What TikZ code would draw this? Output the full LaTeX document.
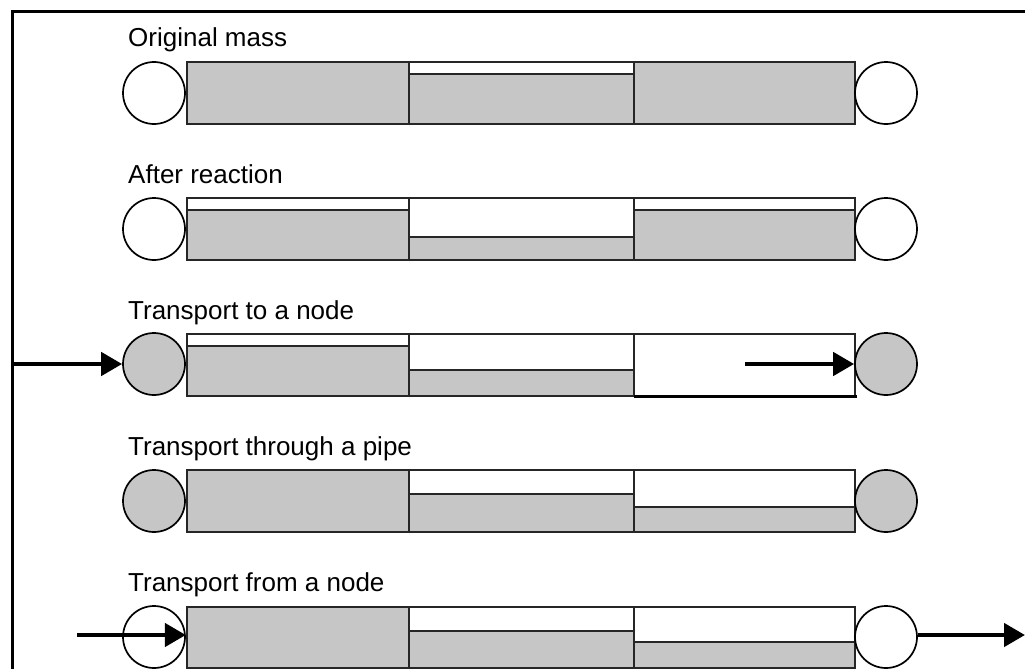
\documentclass[tikz,border=0pt]{standalone}
\usepackage{fontspec}
\setmainfont{Liberation Sans}
\usetikzlibrary{arrows.meta}
\definecolor{fillgray}{RGB}{198,198,198}
\tikzset{
  box/.style={draw=black!85, line width=1.7pt},
  ring/.style={circle, draw=black, line width=1.7pt, minimum size=62pt, inner sep=0pt},
  lbl/.style={anchor=base west, inner sep=0pt, font=\fontsize{26}{30}\selectfont},
  flow/.style={line width=4.5pt, -{Triangle[length=21pt,width=23pt]}},
}
% #1 x1, #2 x2, #3 top, #4 level, #5 bottom
\newcommand\pipeseg[5]{%
  \draw[box, fill=white] (#1,#3) rectangle (#2,#5);
  \draw[box, fill=fillgray] (#1,#4) rectangle (#2,#5);
}
\begin{document}
\begin{tikzpicture}[x=1pt,y=-1pt]
\useasboundingbox (0,0) rectangle (1025,669);
\draw[line width=3pt] (12,700) -- (12,12) -- (1060,12);

% Row 1
\node[lbl] (t1) at (128,47) {Original mass};
\pipeseg{187}{409}{62}{62}{124}
\pipeseg{409}{634}{62}{74}{124}
\pipeseg{634}{855}{62}{62}{124}
\node[ring, fill=white] (l1) at (154,93) {};
\node[ring, fill=white] (r1) at (886,93) {};

% Row 2
\node[lbl] (t2) at (128,183) {After reaction};
\pipeseg{187}{409}{198}{210}{260}
\pipeseg{409}{634}{198}{237}{260}
\pipeseg{634}{855}{198}{210}{260}
\node[ring, fill=white] (l2) at (154,229) {};
\node[ring, fill=white] (r2) at (886,229) {};

% Row 3
\node[lbl] (t3) at (128,319) {Transport to a node};
\pipeseg{187}{409}{334}{346}{396}
\pipeseg{409}{634}{334}{370}{396}
\draw[box, fill=white] (634,334) rectangle (855,396);
\draw[line width=3pt] (634,396) -- (857,396);
\node[ring, fill=fillgray] (l3) at (154,364) {};
\node[ring, fill=fillgray] (r3) at (886,364) {};
\coordinate (a3) at (13,364);
\coordinate (b3) at (745,364);
\draw[flow] (a3) -- (l3.west);
\draw[flow] (b3) -- (r3.west);

% Row 4
\node[lbl] (t4) at (128,455) {Transport through a pipe};
\pipeseg{187}{409}{470}{470}{532}
\pipeseg{409}{634}{470}{494}{532}
\pipeseg{634}{855}{470}{507}{532}
\node[ring, fill=fillgray] (l4) at (154,501) {};
\node[ring, fill=fillgray] (r4) at (886,501) {};

% Row 5
\node[lbl] (t5) at (128,591) {Transport from a node};
\pipeseg{187}{409}{607}{607}{668}
\pipeseg{409}{634}{607}{631}{668}
\pipeseg{634}{855}{607}{642}{668}
\node[ring, fill=white] (l5) at (154,637) {};
\node[ring, fill=white] (r5) at (886,637) {};
\coordinate (a5) at (77,635);
\coordinate (b5) at (1025,635);
\draw[flow] (a5) -- (l5.east |- a5);
\draw[flow] (r5.east |- b5) -- (b5);
\end{tikzpicture}
\end{document}
